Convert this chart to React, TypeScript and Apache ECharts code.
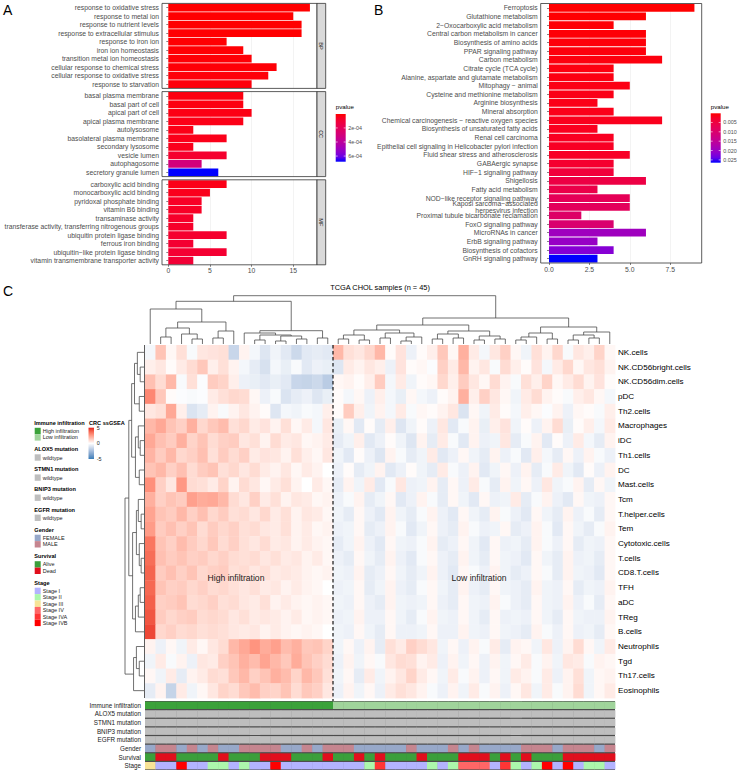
import React, { useEffect, useRef } from 'react';
import * as echarts from 'echarts';

const FONT = '"Liberation Sans", Arial, Helvetica, sans-serif';

// ---------------- Panel A (GO) ----------------
const bpTerms = ['response to oxidative stress', 'response to metal ion', 'response to nutrient levels', 'response to extracellular stimulus', 'response to iron ion', 'iron ion homeostasis', 'transition metal ion homeostasis', 'cellular response to chemical stress', 'cellular response to oxidative stress', 'response to starvation'];
const bpCounts = [17, 15, 16, 16, 7, 9, 10, 13, 12, 10];
const bpPvalues = [0.000002, 0.000003, 0.000003, 0.000004, 0.000005, 0.000006, 0.000008, 0.00001, 0.000012, 0.000015];
const ccTerms = ['basal plasma membrane', 'basal part of cell', 'apical part of cell', 'apical plasma membrane', 'autolysosome', 'basolateral plasma membrane', 'secondary lysosome', 'vesicle lumen', 'autophagosome', 'secretory granule lumen'];
const ccCounts = [9, 9, 10, 9, 3, 7, 3, 7, 4, 6];
const ccPvalues = [0.00002, 0.00002, 0.000025, 0.00003, 0.00003, 0.000035, 0.00004, 0.00008, 0.0003, 0.00068];
const mfTerms = ['carboxylic acid binding', 'monocarboxylic acid binding', 'pyridoxal phosphate binding', 'vitamin B6 binding', 'transaminase activity', 'transferase activity, transferring nitrogenous groups', 'ubiquitin protein ligase binding', 'ferrous iron binding', 'ubiquitin\u2212like protein ligase binding', 'vitamin transmembrane transporter activity'];
const mfCounts = [7, 5, 4, 4, 3, 3, 7, 3, 7, 3];
const mfPvalues = [0.00003, 0.00004, 0.00006, 0.00006, 0.00007, 0.00007, 0.00008, 0.00009, 0.00009, 0.0001];
const goOntologies = ['BP', 'CC', 'MF'];
const goAxisTicks = [0, 5, 10, 15];
const goLegendTicks = [0.0002, 0.0004, 0.0006];
const goLegendLabels = ['2e-04', '4e-04', '6e-04'];

// ---------------- Panel B (KEGG) ----------------
const keggTerms = ['Ferroptosis', 'Glutathione metabolism', '2\u2212Oxocarboxylic acid metabolism', 'Central carbon metabolism in cancer', 'Biosynthesis of amino acids', 'PPAR signaling pathway', 'Carbon metabolism', 'Citrate cycle (TCA cycle)', 'Alanine, aspartate and glutamate metabolism', 'Mitophagy \u2212 animal', 'Cysteine and methionine metabolism', 'Arginine biosynthesis', 'Mineral absorption', 'Chemical carcinogenesis \u2212 reactive oxygen species', 'Biosynthesis of unsaturated fatty acids', 'Renal cell carcinoma', 'Epithelial cell signaling in Helicobacter pylori infection', 'Fluid shear stress and atherosclerosis', 'GABAergic synapse', 'HIF\u22121 signaling pathway', 'Shigellosis', 'Fatty acid metabolism', 'NOD\u2212like receptor signaling pathway', 'Kaposi sarcoma\u2212associated\nherpesvirus infection', 'Proximal tubule bicarbonate reclamation', 'FoxO signaling pathway', 'MicroRNAs in cancer', 'ErbB signaling pathway', 'Biosynthesis of cofactors', 'GnRH signaling pathway'];
const keggCounts = [9, 6, 4, 6, 6, 6, 7, 4, 4, 5, 4, 3, 4, 7, 3, 4, 4, 5, 4, 4, 6, 3, 5, 5, 2, 4, 6, 3, 4, 3];
const keggPvalues = [0.0001, 0.0002, 0.0003, 0.0004, 0.0005, 0.0006, 0.0007, 0.0008, 0.0009, 0.001, 0.0012, 0.0013, 0.0014, 0.0016, 0.0018, 0.002, 0.0022, 0.0024, 0.0032, 0.0043, 0.0054, 0.006, 0.0075, 0.008, 0.0093, 0.0102, 0.0194, 0.0202, 0.0218, 0.0265];
const keggAxisTicks = [0, 2.5, 5, 7.5];
const keggLegendTicks = [0.005, 0.01, 0.015, 0.02, 0.025];
const keggLegendLabels = ['0.005', '0.010', '0.015', '0.020', '0.025'];

// ---------------- Panel C (heatmap) ----------------
const immuneCells = ['NK.cells', 'NK.CD56bright.cells', 'NK.CD56dim.cells', 'pDC', 'Th2.cells', 'Macrophages', 'iDC', 'Th1.cells', 'DC', 'Mast.cells', 'Tcm', 'T.helper.cells', 'Tem', 'Cytotoxic.cells', 'T.cells', 'CD8.T.cells', 'TFH', 'aDC', 'TReg', 'B.cells', 'Neutrophils', 'Tgd', 'Th17.cells', 'Eosinophils'];
const nkCells = [-0.3, 1.5, 0.2, 0.8, -0.2, 0.6, 0.7, 0.8, -1.5, 0.3, -0.3, -0.9, -0.4, -0.8, -1.4, -0.8, -0.7, -0.8, 1.8, 0.8, 0.6, 1.0, 1.8, 0.1, 0.7, -0.5, 0.1, 0.4, 1.4, 0.2, 2.0, 0.5, -0.3, 0.6, 1.2, 0.2, -0.4, 0.8, 0.3, 1.0, -0.2, 0.6, 0.4, 1.1, 0.2];
const nkBright = [0.4, 0.6, 0.1, 0.5, 0.9, 1.4, 0.4, 0.8, 0.3, -0.3, -0.7, -1.1, -0.3, -0.6, -0.2, -0.8, -0.5, -0.6, -0.9, 0.5, 0.3, 0.6, 0.4, -0.5, 0.7, 0.1, 0.2, -0.1, 1.2, 0.5, 1.8, 0.3, 0.6, -0.2, 0.9, 0.4, 0.1, 0.7, -0.3, 0.5, 1.0, 0.2, 0.6, 0.8, 0.3];
const nkDim = [1.6, 0.9, 1.8, -0.2, 0.8, -0.1, 1.3, 1.1, 0.4, -0.5, -0.6, -0.8, -0.6, -0.8, -1.5, -1.6, -1.4, -1.9, 0.2, 0.3, 0.1, 0.4, 1.3, -0.3, 0.5, -0.4, 0.1, 0.2, 1.0, 0.4, 1.3, 0.6, 0.2, 0.9, 0.3, -0.2, 0.8, 0.4, 1.1, 0.2, 0.5, 0.9, 0.3, 0.7, 0.1];
const pDC = [3.0, 1.4, 0.1, -0.1, -0.2, -0.1, 0.5, 0.8, 1.0, 0.9, 0.2, -0.5, -0.2, -1.0, -0.7, -0.5, -0.9, -0.6, 0.1, -0.3, 0.2, -0.5, 0.4, -0.3, -0.6, 0.2, -0.3, -0.5, 0.1, 0.3, 2.0, 0.4, 1.2, 0.6, 0.2, -0.4, 0.5, 0.9, 0.3, 0.1, -0.2, 0.4, 0.6, 0.2, -0.3];
const th2Cells = [0.6, 0.8, 2.2, 0.4, -1.0, -0.7, 0.3, -0.2, 0.3, 0.6, 0.3, 0.1, -0.9, -0.3, -0.4, -0.2, -0.3, 0.4, 0.1, 1.3, 0.4, -0.4, 0.3, -0.3, 0.5, -0.2, 0.2, 0.1, 0.3, 0.6, -1.0, 0.2, -0.4, 0.5, 0.1, -0.3, 0.4, 0.2, -0.1, 0.3, -0.5, 0.2, 0.1, -0.2, 0.4];
const macrophages = [1.8, 2.2, 1.5, 1.2, 2.0, 1.0, 1.4, 1.7, 0.8, 1.0, 0.5, 0.7, 0.3, 0.8, 0.2, 0.5, -0.3, 0.6, -0.6, 0.2, -0.8, 0.1, -0.7, 0.4, -0.9, -0.4, 0.1, -0.5, 0.6, -0.8, -0.2, 0.3, -0.6, 0.4, 0.7, -0.4, 0.1, -0.5, 0.3, 0.9, -0.6, 0.1, 0.4, -0.3, 0.5];
const iDC = [2.2, 1.6, 1.3, 2.0, 1.1, 1.5, 0.9, 1.2, 1.3, 0.6, 0.8, 0.3, 0.9, 0.5, 0.6, 0.2, 0.3, 0.5, -0.7, -0.4, 0.4, -0.8, -0.5, 0.1, -0.4, -0.9, 0.3, -0.7, 0.5, -0.2, -0.8, 0.3, -0.5, -0.4, 0.6, -0.7, -0.2, 0.3, -0.8, 0.1, -0.5, 0.5, -0.3, -0.7, 0.3];
const th1Cells = [1.9, 1.3, 1.8, 1.0, 1.2, 1.6, 0.8, 1.3, 0.9, 1.2, 0.5, 0.7, 0.6, 0.3, 0.8, 0.4, 0.2, 0.6, -0.4, -0.8, 0.1, -0.5, -0.9, 0.3, -0.2, -0.7, -0.4, 0.5, -0.8, -0.5, 0.2, -0.4, -0.7, 0.3, -0.5, -0.2, -0.8, 0.4, -0.3, -0.7, 0.2, -0.5, 0.3, -0.2, -0.5];
const dc = [1.5, 1.8, 1.2, 1.6, 0.9, 1.3, 1.5, 0.8, 1.0, 0.6, 0.9, 0.5, 0.3, 0.6, 0.2, 0.5, 0.3, 0.0, -0.5, 0.1, -0.7, -0.4, 0.3, -0.8, -0.5, 0.1, -0.4, -0.7, 0.5, -0.2, -0.5, 0.3, -0.8, -0.4, 0.2, -0.5, 0.3, -0.7, -0.2, 0.5, -0.4, -0.8, 0.1, -0.5, 0.3];
const mastCells = [2.8, 1.2, 0.6, 2.6, 0.9, 0.8, 0.5, 1.1, 0.3, 0.9, 0.6, 0.2, 0.5, 0.8, 0.3, 0.0, 0.5, 0.2, -0.7, 0.3, -0.4, 0.5, -0.8, -0.2, 0.6, -0.5, -0.4, 0.3, -0.7, 0.2, -0.5, 0.5, -0.2, -0.7, 0.3, -0.4, 0.2, -0.5, 0.6, -0.4, -0.2, 0.3, -0.7, 0.2, -0.4];
const tcm = [2.0, 1.2, 1.5, 1.3, 2.4, 2.1, 2.2, 1.8, 0.9, 0.6, 1.2, 0.5, 0.8, 0.3, 0.6, 0.5, 0.2, 0.3, -0.5, -0.2, 0.3, -0.7, -0.4, 0.2, -0.8, -0.5, 0.3, -0.2, -0.7, 0.2, -0.4, -0.8, 0.2, -0.5, -0.4, 0.5, -0.7, -0.2, 0.3, -0.5, -0.8, 0.2, -0.4, -0.5, 0.2];
const tHelper = [2.3, 1.5, 1.3, 1.8, 1.2, 1.6, 1.0, 1.3, 0.8, 0.9, 0.6, 1.0, 0.5, 0.8, 0.3, 0.6, 0.5, 0.2, -0.4, -0.7, 0.2, -0.5, -0.8, 0.3, -0.4, -0.7, -0.2, 0.3, -0.5, -0.8, 0.2, -0.4, -0.7, 0.3, -0.2, -0.5, -0.8, 0.2, -0.4, -0.7, 0.3, -0.5, -0.2, -0.7, 0.2];
const tem = [2.5, 1.3, 1.6, 1.2, 1.5, 0.9, 1.3, 1.0, 1.2, 0.8, 0.9, 0.6, 0.5, 0.8, 0.3, 0.5, 0.2, 0.3, -0.5, -0.4, 0.2, -0.7, -0.5, 0.3, -0.2, -0.8, -0.4, 0.2, -0.5, -0.7, 0.3, -0.2, -0.5, -0.4, 0.2, -0.7, -0.5, 0.3, -0.2, -0.8, 0.2, -0.4, -0.7, -0.2, 0.3];
const cytotoxic = [3.4, 1.5, 1.2, 1.7, 1.3, 1.0, 1.4, 0.9, 1.2, 0.8, 0.6, 0.9, 0.5, 0.6, 0.3, 0.5, 0.3, 0.2, -0.7, -0.4, 0.3, -0.5, -0.8, 0.2, -0.4, -0.5, -0.2, 0.3, -0.7, -0.5, 0.2, -0.4, -0.8, 0.2, -0.5, -0.4, -0.7, 0.3, -0.2, -0.5, 0.2, -0.7, -0.4, -0.5, 0.2];
const tCells = [3.6, 1.6, 1.3, 1.5, 1.2, 1.3, 1.0, 1.2, 0.9, 0.8, 0.9, 0.6, 0.8, 0.5, 0.6, 0.3, 0.5, 0.2, -0.5, -0.7, 0.2, -0.4, -0.7, 0.3, -0.5, -0.8, -0.2, 0.2, -0.5, -0.7, 0.3, -0.4, -0.7, 0.2, -0.4, -0.5, -0.8, 0.2, -0.4, -0.7, 0.3, -0.5, -0.4, -0.7, 0.2];
const cd8Tcells = [3.8, 1.3, 1.6, 1.2, 1.5, 1.0, 1.2, 1.3, 0.8, 0.9, 0.6, 0.8, 0.5, 0.6, 0.5, 0.3, 0.2, 0.3, -0.4, -0.5, 0.3, -0.7, -0.5, 0.2, -0.4, -0.7, -0.4, 0.3, -0.5, -0.8, 0.2, -0.2, -0.5, 0.3, -0.4, -0.7, -0.5, 0.2, -0.2, -0.7, 0.3, -0.4, -0.5, -0.8, 0.2];
const tfh = [3.7, 1.5, 1.2, 1.3, 1.0, 1.2, 0.9, 1.0, 0.8, 0.6, 0.8, 0.5, 0.6, 0.3, 0.5, 0.3, 0.2, 0.0, -0.5, -0.4, 0.2, -0.7, -0.4, 0.3, -0.5, -0.7, -0.2, 0.2, -0.4, -0.7, 0.3, -0.5, -0.7, 0.2, -0.4, -0.5, -0.7, 0.3, -0.4, -0.5, 0.2, -0.7, -0.4, -0.5, 0.3];
const aDC = [3.9, 1.2, 1.3, 1.5, 0.9, 1.0, 1.2, 0.8, 0.9, 0.6, 0.5, 0.8, 0.3, 0.5, 0.3, 0.2, 0.3, 0.2, -0.4, -0.5, 0.2, -0.5, -0.7, 0.3, -0.4, -0.5, -0.4, 0.2, -0.5, -0.7, 0.2, -0.4, -0.5, 0.3, -0.2, -0.5, -0.7, 0.2, -0.4, -0.5, 0.3, -0.5, -0.2, -0.7, 0.2];
const tReg = [4.1, 1.3, 1.0, 1.2, 1.3, 0.9, 1.0, 0.9, 0.6, 0.8, 0.5, 0.6, 0.5, 0.3, 0.5, 0.2, 0.3, 0.2, -0.5, -0.4, 0.3, -0.5, -0.5, 0.2, -0.4, -0.7, -0.2, 0.3, -0.4, -0.5, 0.2, -0.4, -0.7, 0.2, -0.5, -0.4, -0.5, 0.2, -0.4, -0.7, 0.2, -0.4, -0.5, -0.5, 0.3];
const bCells = [4.4, 1.0, 1.2, 0.9, 1.0, 0.8, 0.9, 0.8, 0.6, 0.5, 0.6, 0.3, 0.5, 0.3, 0.2, 0.3, 0.2, 0.0, -0.4, -0.5, 0.2, -0.4, -0.7, 0.2, -0.5, -0.5, -0.4, 0.2, -0.5, -0.5, 0.3, -0.4, -0.5, 0.2, -0.4, -0.5, -0.7, 0.3, -0.2, -0.5, 0.2, -0.5, -0.4, -0.7, 0.2];
const neutrophils = [0.3, -0.5, 0.2, -0.4, 0.5, 0.2, 0.6, 0.9, 1.8, 2.2, 2.7, 2.1, 2.4, 1.7, 2.0, 1.4, 1.5, 1.1, -0.4, 0.2, -0.5, 0.3, -0.7, 0.8, 0.5, 1.2, 0.9, 0.6, -0.4, 0.2, -0.5, 0.3, -0.2, 0.5, -0.7, 0.3, 0.2, -0.4, 0.6, -0.5, 0.3, 0.9, 0.2, -0.4, 0.5];
const tgd = [-0.4, 0.5, -0.2, 0.3, -0.5, 0.6, 0.5, 1.2, 1.5, 2.0, 1.7, 2.3, 1.8, 1.4, 2.1, 1.5, 1.2, 0.9, -0.5, 0.3, -0.4, 0.2, -0.2, 0.6, 0.9, 0.8, 0.3, 0.5, -0.5, 0.3, -0.4, 0.2, -0.5, 0.3, -0.4, 0.2, 0.5, -0.2, 0.3, -0.4, 0.6, 0.5, -0.2, 0.3, 0.2];
const th17Cells = [0.2, -0.4, 0.5, -0.7, 0.3, 0.5, 0.9, 0.8, 1.4, 1.8, 1.2, 1.5, 2.0, 1.7, 1.1, 1.8, 1.4, 0.8, -0.4, 0.2, -0.7, 0.5, -0.4, 0.3, 0.6, 1.1, 0.5, 0.2, -0.4, 0.5, -0.2, 0.3, -0.5, 0.2, -0.4, 0.5, 0.3, -0.2, 0.5, -0.5, 0.3, 0.8, -0.4, 0.2, 0.3];
const eosinophils = [-0.7, 0.3, -1.6, 0.5, -0.4, 0.2, 0.6, 1.1, 0.9, 1.4, 1.7, 1.2, 1.1, 1.5, 0.9, 1.4, 1.2, 0.6, -0.5, 0.3, -0.4, 0.2, -0.5, 0.5, 0.8, 0.6, 0.3, -0.2, -0.5, 0.3, -0.4, 0.5, -0.2, 0.3, -0.5, 0.2, 0.6, -0.4, 0.5, -0.2, 0.3, 0.9, -0.4, 0.2, 0.5];
const heatRows = [nkCells, nkBright, nkDim, pDC, th2Cells, macrophages, iDC, th1Cells, dc, mastCells, tcm, tHelper, tem, cytotoxic, tCells, cd8Tcells, tfh, aDC, tReg, bCells, neutrophils, tgd, th17Cells, eosinophils];
const highInfiltrationCount = 18;

// Column dendrogram: hclust-style merges [left, right, height]; negative = leaf (1-based), positive = earlier merge (1-based)
const colMerges: [number, number, number][] = [
  [-2, -3, 7], [-5, -6, 5], [-4, 2, 10], [1, 3, 16], [-7, -8, 6], [5, -9, 13], [4, 6, 22], [-1, 7, 35],
  [-11, -12, 4], [-13, -14, 3], [-15, -16, 5], [10, 11, 8], [9, 12, 9], [-10, 13, 11], [-17, -18, 6], [14, 15, 13.3], [8, 16, 42.7],
  [-19, -20, 5], [-21, -22, 4], [18, 19, 9], [-23, -24, 6], [-25, -26, 3], [22, -27, 7], [21, 23, 11], [20, 24, 14],
  [-28, -29, 5], [-30, -31, 6], [26, 27, 10], [-32, -33, 4], [-34, -35, 5], [29, 30, 8], [28, 31, 13], [25, 32, 19],
  [-36, -37, 4], [-38, 34, 7], [-39, -40, 5], [35, 36, 11], [-41, -42, 4], [-43, -44, 6], [38, 39, 9], [40, -45, 12], [37, 41, 17],
  [33, 42, 26], [17, 43, 48.3],
];
// Row dendrogram
const rowMerges: [number, number, number][] = [
  [-2, -3, 4], [-1, 1, 7], [-4, -5, 5], [2, 3, 10], [-7, -8, 4], [-6, 5, 6], [-9, -10, 5], [6, 7, 9], [4, 8, 13],
  [-12, -13, 3], [-11, 10, 6], [-15, -16, 3], [-14, 12, 5], [11, 13, 8], [-17, -18, 4], [15, -19, 6], [16, -20, 9], [14, 17, 12],
  [9, 18, 16], [-22, -23, 5], [-21, 20, 8], [21, -24, 11], [19, 22, 20],
];

// Column annotations (codes per sample, in heatmap order)
const annotationNames = ['Immune infiltration', 'ALOX5 mutation', 'STMN1 mutation', 'BNIP3 mutation', 'EGFR mutation', 'Gender', 'Survival', 'Stage'];
const immuneCodes = 'HHHHHHHHHHHHHHHHHHLLLLLLLLLLLLLLLLLLLLLLLLLLL';
const alox5Codes = 'WWWWWWWWWWWWWWWWWWWWWWWWWWWWWWWWWWWWWWWWWWWWW';
const stmn1Codes = 'WWWWWWWWWWWWWWWWWWWWWWWWWWWWWWWWWWWWWWWWWWWWW';
const bnip3Codes = 'WWWWWWWWWWWWWWWWWWWWWWWWWWWWWWWWWWWWWWWWWWWWW';
const egfrCodes = 'WWWWWWWWWWWWWWWWWWWWWWWWWWWWWWWWWWWWWWWWWWWWW';
const genderCodes = 'FMMFMFMFFMMMMFFMFMMMFFFFFMFFFMFMFFFFMMMFMMMFM';
const survivalCodes = 'ADDAAAADAAADDDAAADAADADAAADAAADDDADADAAADDDDD';
const stageCodes = '311B112212' + '11B1111111' + '12A1111212' + '4441A212B1' + 'B1221';

const legendGroups = [
  { title: 'Immune infiltration', codes: immuneCodes, items: [['H', 'High infiltration', '#3BA23A'], ['L', 'Low infiltration', '#A0D49B']] },
  { title: 'ALOX5 mutation', codes: alox5Codes, items: [['W', 'wildtype', '#BEBEBE']] },
  { title: 'STMN1 mutation', codes: stmn1Codes, items: [['W', 'wildtype', '#BEBEBE']] },
  { title: 'BNIP3 mutation', codes: bnip3Codes, items: [['W', 'wildtype', '#BEBEBE']] },
  { title: 'EGFR mutation', codes: egfrCodes, items: [['W', 'wildtype', '#BEBEBE']] },
  { title: 'Gender', codes: genderCodes, items: [['F', 'FEMALE', '#97A8C9'], ['M', 'MALE', '#C5858F']] },
  { title: 'Survival', codes: survivalCodes, items: [['A', 'Alive', '#3B9F3B'], ['D', 'Dead', '#E10E1C']] },
  { title: 'Stage', codes: stageCodes, items: [['1', 'Stage I', '#B3B3FF'], ['2', 'Stage II', '#ACF7AC'], ['3', 'Stage III', '#F7E396'], ['4', 'Stage IV', '#FF6666'], ['A', 'Stage IVA', '#FF3535'], ['B', 'Stage IVB', '#FF0000']] },
];
const heatLegendTicks = [5, 0, -5];

// ---------------- colour helpers (CIELAB interpolation) ----------------
function hex2rgb(h: string) { const n = parseInt(h.slice(1), 16); return [(n >> 16) & 255, (n >> 8) & 255, n & 255]; }
const toLin = (c: number) => { c /= 255; return c <= 0.04045 ? c / 12.92 : Math.pow((c + 0.055) / 1.055, 2.4); };
const fromLin = (c: number) => { const v = c <= 0.0031308 ? 12.92 * c : 1.055 * Math.pow(Math.max(c, 0), 1 / 2.4) - 0.055; return Math.round(Math.min(1, Math.max(0, v)) * 255); };
function rgb2lab(rgb: number[]) {
  const R = toLin(rgb[0]), G = toLin(rgb[1]), B = toLin(rgb[2]);
  const X = (0.4124564 * R + 0.3575761 * G + 0.1804375 * B) / 0.95047;
  const Y = 0.2126729 * R + 0.7151522 * G + 0.072175 * B;
  const Z = (0.0193339 * R + 0.119192 * G + 0.9503041 * B) / 1.08883;
  const f = (t: number) => (t > 0.008856 ? Math.cbrt(t) : 7.787 * t + 16 / 116);
  const fx = f(X), fy = f(Y), fz = f(Z);
  return [116 * fy - 16, 500 * (fx - fy), 200 * (fy - fz)];
}
function lab2hex(lab: number[]) {
  const fy = (lab[0] + 16) / 116, fx = fy + lab[1] / 500, fz = fy - lab[2] / 200;
  const fi = (t: number) => (t * t * t > 0.008856 ? t * t * t : (t - 16 / 116) / 7.787);
  const X = fi(fx) * 0.95047, Y = fi(fy), Z = fi(fz) * 1.08883;
  const R = 3.2404542 * X - 1.5371385 * Y - 0.4985314 * Z;
  const G = -0.969266 * X + 1.8760108 * Y + 0.041556 * Z;
  const B = 0.0556434 * X - 0.2040259 * Y + 1.0572252 * Z;
  return '#' + [R, G, B].map((c) => fromLin(c).toString(16).padStart(2, '0')).join('');
}
function labMix(c1: string, c2: string, t: number) {
  const a = rgb2lab(hex2rgb(c1)), b = rgb2lab(hex2rgb(c2));
  return lab2hex(a.map((v, i) => v + (b[i] - v) * Math.max(0, Math.min(1, t))));
}
const HEAT_HIGH = '#E41A1C';
const HEAT_LOW = '#377EB8';
const heatColor = (v: number) => (v >= 0 ? labMix('#FFFFFF', HEAT_HIGH, v / 5) : labMix('#FFFFFF', HEAT_LOW, -v / 5));

function pScale(pvals: number[]) {
  const lo = Math.min(...pvals), hi = Math.max(...pvals);
  return { lo, hi, color: (p: number) => labMix('#FF0000', '#0000FF', (p - lo) / (hi - lo)) };
}

function dendroSegments(merges: [number, number, number][]) {
  const pos: number[] = [], hts: number[] = [];
  return merges.map(([a, b, h], k) => {
    const pa = a < 0 ? -a - 0.5 : pos[a - 1];
    const ha = a < 0 ? 0 : hts[a - 1];
    const pb = b < 0 ? -b - 0.5 : pos[b - 1];
    const hb = b < 0 ? 0 : hts[b - 1];
    pos[k] = (pa + pb) / 2; hts[k] = h;
    return [pa, ha, pb, hb, h];
  });
}

function buildOption() {
  const goAll = [...bpPvalues, ...ccPvalues, ...mfPvalues];
  const goScale = pScale(goAll);
  const keggScale = pScale(keggPvalues);

  // layout
  const A = { zero: 168.3, left: 162, right: 317, tops: [3.4, 91.6, 179.8], h: 85, max: 17.85 };
  const B = { zero: 549, left: 540.7, right: 701.7, top: 3.5, h: 259.5, max: 9.45 };
  const HM = { left: 145, top: 345, w: 470, h: 353 };
  const AN = { top: 701, h: 69 };

  const grids: any[] = [];
  const xAxes: any[] = [];
  const yAxes: any[] = [];
  const series: any[] = [];
  const graphics: any[] = [];

  const axisText = { fontSize: 6.8, color: '#4D4D4D', fontFamily: FONT };

  const goSets = [[bpTerms, bpCounts, bpPvalues], [ccTerms, ccCounts, ccPvalues], [mfTerms, mfCounts, mfPvalues]] as const;
  goSets.forEach(([terms, counts, pv], i) => {
    grids.push({ left: A.zero, top: A.tops[i], width: A.right - A.zero, height: A.h });
    xAxes.push({
      gridIndex: i, type: 'value', min: 0, max: A.max, interval: 2.5,
      axisLine: { show: false },
      axisTick: { show: i === 2, customValues: goAxisTicks, length: 2, lineStyle: { color: '#333', width: 0.6 } },
      axisLabel: { show: i === 2, customValues: goAxisTicks, ...axisText, margin: 2.5 },
      splitLine: { show: true, lineStyle: { color: '#EBEBEB', width: 0.6 } },
    });
    yAxes.push({
      gridIndex: i, type: 'category', inverse: true, data: terms, offset: A.zero - A.left,
      axisLine: { show: false },
      axisTick: { show: true, length: 2, alignWithLabel: true, lineStyle: { color: '#333', width: 0.6 } },
      axisLabel: { ...axisText, margin: 3, interval: 0 },
      splitLine: { show: false },
    });
    series.push({
      type: 'bar', xAxisIndex: i, yAxisIndex: i, barCategoryGap: '10%',
      data: (counts as number[]).map((c, j) => ({ value: c, itemStyle: { color: goScale.color((pv as number[])[j]) } })),
    });
    graphics.push({ type: 'rect', shape: { x: A.left, y: A.tops[i], width: A.right - A.left, height: A.h }, style: { fill: 'none', stroke: '#333', lineWidth: 0.8 }, z: 100 });
    graphics.push({ type: 'rect', shape: { x: A.right, y: A.tops[i], width: 8.7, height: A.h }, style: { fill: '#D9D9D9', stroke: '#333', lineWidth: 0.8 }, z: 100 });
    graphics.push({ type: 'text', x: A.right + 4.35, y: A.tops[i] + A.h / 2, rotation: -Math.PI / 2, style: { text: goOntologies[i], fontSize: 5.5, fontFamily: FONT, fill: '#1A1A1A', align: 'center', verticalAlign: 'middle', textAlign: 'center', textVerticalAlign: 'middle' }, z: 101 });
  });

  // Panel B
  grids.push({ left: B.zero, top: B.top, width: B.right - B.zero, height: B.h });
  xAxes.push({
    gridIndex: 3, type: 'value', min: 0, max: B.max, interval: 1.25,
    axisLine: { show: false },
    axisTick: { show: true, customValues: keggAxisTicks, length: 2, lineStyle: { color: '#333', width: 0.6 } },
    axisLabel: { customValues: keggAxisTicks, ...axisText, margin: 2.5, formatter: (v: number) => v.toFixed(1) },
    splitLine: { show: true, lineStyle: { color: '#EBEBEB', width: 0.6 } },
  });
  yAxes.push({
    gridIndex: 3, type: 'category', inverse: true, data: keggTerms, offset: B.zero - B.left,
    axisLine: { show: false },
    axisTick: { show: true, length: 2, alignWithLabel: true, lineStyle: { color: '#333', width: 0.6 } },
    axisLabel: { ...axisText, margin: 3, interval: 0, lineHeight: 6.6 },
    splitLine: { show: false },
  });
  series.push({
    type: 'bar', xAxisIndex: 3, yAxisIndex: 3, barCategoryGap: '10%',
    data: keggCounts.map((c, j) => ({ value: c, itemStyle: { color: keggScale.color(keggPvalues[j]) } })),
  });
  graphics.push({ type: 'rect', shape: { x: B.left, y: B.top, width: B.right - B.left, height: B.h }, style: { fill: 'none', stroke: '#333', lineWidth: 0.8 }, z: 100 });

  // p-value legends
  const pLegend = (x: number, yTitle: number, yBar: number, hBar: number, sc: any, ticks: number[], labels: string[]) => {
    const stops = Array.from({ length: 11 }, (_, k) => ({ offset: k / 10, color: labMix('#FF0000', '#0000FF', k / 10) }));
    graphics.push({ type: 'text', x, y: yTitle, style: { text: 'pvalue', fontSize: 6.2, fontFamily: FONT, fill: '#000', align: 'left', verticalAlign: 'middle', textAlign: 'left', textVerticalAlign: 'middle' } });
    graphics.push({ type: 'rect', shape: { x, y: yBar, width: 10, height: hBar }, style: { fill: new echarts.graphic.LinearGradient(0, 0, 0, 1, stops) } });
    ticks.forEach((t, k) => {
      const y = yBar + ((t - sc.lo) / (sc.hi - sc.lo)) * hBar;
      graphics.push({ type: 'line', shape: { x1: x, y1: y, x2: x + 2, y2: y }, style: { stroke: '#fff', lineWidth: 0.6 } });
      graphics.push({ type: 'line', shape: { x1: x + 8, y1: y, x2: x + 10, y2: y }, style: { stroke: '#fff', lineWidth: 0.6 } });
      graphics.push({ type: 'text', x: x + 12.5, y, style: { text: labels[k], fontSize: 5.4, fontFamily: FONT, fill: '#4D4D4D', align: 'left', verticalAlign: 'middle', textAlign: 'left', textVerticalAlign: 'middle' } });
    });
  };
  pLegend(335.7, 106.7, 114, 47.7, goScale, goLegendTicks, goLegendLabels);
  pLegend(710.7, 106.7, 113.3, 49.4, keggScale, keggLegendTicks, keggLegendLabels);

  // Panel labels
  [['A', 3, 10], ['B', 374, 10], ['C', 3, 291]].forEach(([t, x, y]) => {
    graphics.push({ type: 'text', x, y, style: { text: t, fontSize: 14, fontFamily: FONT, fill: '#000', align: 'left', verticalAlign: 'middle', textAlign: 'left', textVerticalAlign: 'middle' } });
  });

  // Panel C: heatmap grid (4)
  const sampleIdx = heatRows[0].map((_, c) => String(c + 1));
  grids.push({ left: HM.left, top: HM.top, width: HM.w, height: HM.h });
  xAxes.push({ gridIndex: 4, type: 'category', data: sampleIdx, show: false });
  yAxes.push({
    gridIndex: 4, type: 'category', data: immuneCells, inverse: true, position: 'right',
    axisLine: { show: false }, axisTick: { show: false },
    axisLabel: { fontSize: 8.1, color: '#000', fontFamily: FONT, margin: 3, interval: 0 },
    splitLine: { show: false },
  });
  const heatData: number[][] = [];
  heatRows.forEach((row, r) => row.forEach((v, c) => heatData.push([c, r, v])));
  series.push({
    type: 'custom', xAxisIndex: 4, yAxisIndex: 4, encode: { x: 0, y: 1 }, data: heatData,
    renderItem: (_p: any, api: any) => {
      const pt = api.coord([api.value(0), api.value(1)]);
      const s = api.size([1, 1]);
      return { type: 'rect', shape: { x: pt[0] - s[0] / 2, y: pt[1] - s[1] / 2, width: s[0] + 0.4, height: s[1] + 0.4 }, style: { fill: heatColor(api.value(2)) } };
    },
  });
  // dashed split between high/low infiltration
  series.push({
    type: 'custom', xAxisIndex: 4, yAxisIndex: 4, encode: { x: 0, y: 1 }, data: [[highInfiltrationCount - 1, 0]], z: 5,
    renderItem: (p: any, api: any) => {
      const pt = api.coord([api.value(0), 0]);
      const s = api.size([1, 1]);
      const x = pt[0] + s[0] / 2;
      return { type: 'line', shape: { x1: x, y1: p.coordSys.y, x2: x, y2: p.coordSys.y + p.coordSys.height + 3 }, style: { stroke: '#000', lineWidth: 1.1, lineDash: [3.5, 2.5] } };
    },
  });
  graphics.push({ type: 'line', shape: { x1: HM.left - 0.5, y1: HM.top, x2: HM.left - 0.5, y2: HM.top + HM.h }, style: { stroke: '#333', lineWidth: 0.8 }, z: 60 });

  // annotation grid (5)
  grids.push({ left: HM.left, top: AN.top, width: HM.w, height: AN.h });
  xAxes.push({ gridIndex: 5, type: 'category', data: sampleIdx, show: false });
  yAxes.push({
    gridIndex: 5, type: 'category', data: annotationNames, inverse: true,
    axisLine: { show: false }, axisTick: { show: false },
    axisLabel: { fontSize: 6.3, color: '#1A1A1A', fontFamily: FONT, margin: 4, interval: 0 },
    splitLine: { show: false },
  });
  const annotCells: { c: number; r: number; color: string }[] = [];
  legendGroups.forEach((g, r) => {
    const cmap: Record<string, string> = {};
    g.items.forEach(([code, , col]) => { cmap[code] = col; });
    g.codes.split('').forEach((code, c) => annotCells.push({ c, r, color: cmap[code] }));
  });
  series.push({
    type: 'custom', xAxisIndex: 5, yAxisIndex: 5, encode: { x: 0, y: 1 },
    data: annotCells.map((d) => [d.c, d.r]),
    renderItem: (p: any, api: any) => {
      const pt = api.coord([api.value(0), api.value(1)]);
      const s = api.size([1, 1]);
      return { type: 'rect', shape: { x: pt[0] - s[0] / 2, y: pt[1] - s[1] / 2 + 0.6, width: s[0] + 0.4, height: s[1] - 1.2 }, style: { fill: annotCells[p.dataIndex].color } };
    },
  });
  graphics.push({ type: 'rect', shape: { x: HM.left, y: AN.top, width: HM.w, height: AN.h }, style: { fill: '#4D4D4D' }, z: -1 });

  // column dendrogram (6)
  const colSegs = dendroSegments(colMerges);
  const colRoot = colMerges[colMerges.length - 1][2];
  grids.push({ left: HM.left, top: HM.top - 1 - 48.3, width: HM.w, height: 48.3 });
  xAxes.push({ gridIndex: 6, type: 'value', min: 0, max: heatRows[0].length, show: false });
  yAxes.push({ gridIndex: 6, type: 'value', min: 0, max: colRoot, show: false });
  series.push({
    type: 'custom', xAxisIndex: 6, yAxisIndex: 6, encode: { x: 0, y: 1 }, data: colSegs,
    renderItem: (_p: any, api: any) => {
      const a = api.coord([api.value(0), api.value(1)]);
      const a2 = api.coord([api.value(0), api.value(4)]);
      const b2 = api.coord([api.value(2), api.value(4)]);
      const b = api.coord([api.value(2), api.value(3)]);
      return { type: 'polyline', shape: { points: [a, a2, b2, b] }, style: { stroke: '#4D4D4D', fill: 'none', lineWidth: 0.8 } };
    },
  });

  // row dendrogram (7)
  const rowSegs = dendroSegments(rowMerges);
  const rowRoot = rowMerges[rowMerges.length - 1][2];
  grids.push({ left: 125, top: HM.top, width: HM.left - 1 - 125, height: HM.h });
  xAxes.push({ gridIndex: 7, type: 'value', min: 0, max: rowRoot, inverse: true, show: false });
  yAxes.push({ gridIndex: 7, type: 'value', min: 0, max: immuneCells.length, inverse: true, show: false });
  series.push({
    type: 'custom', xAxisIndex: 7, yAxisIndex: 7, encode: { x: 1, y: 0 }, data: rowSegs,
    renderItem: (_p: any, api: any) => {
      const a = api.coord([api.value(1), api.value(0)]);
      const a2 = api.coord([api.value(4), api.value(0)]);
      const b2 = api.coord([api.value(4), api.value(2)]);
      const b = api.coord([api.value(3), api.value(2)]);
      return { type: 'polyline', shape: { points: [a, a2, b2, b] }, style: { stroke: '#4D4D4D', fill: 'none', lineWidth: 0.8 } };
    },
  });

  // heatmap texts
  const txt = (text: string, x: number, y: number, size: number, align = 'center', weight = 'normal', fill = '#000') => ({
    type: 'text', x, y, z: 50,
    style: { text, fontSize: size, fontFamily: FONT, fontWeight: weight, fill, align, verticalAlign: 'middle', textAlign: align, textVerticalAlign: 'middle' },
  });
  graphics.push(txt('TCGA CHOL samples (n = 45)', 380, 287.3, 7.4));
  graphics.push(txt('High infiltration', 236, 578, 8.6, 'center', 'normal', '#222'));
  graphics.push(txt('Low infiltration', 479, 578, 8.6, 'center', 'normal', '#222'));

  // Panel C legend
  let y = 422.7;
  legendGroups.forEach((g) => {
    graphics.push(txt(g.title, 34.3, y, 5.6, 'left', 'bold'));
    y += 8.3;
    g.items.forEach(([, label, col], k) => {
      if (k > 0) y += 6.4;
      graphics.push({ type: 'rect', shape: { x: 34.7, y: y - 3.2, width: 6, height: 6.4 }, style: { fill: col } });
      graphics.push(txt(label, 42.7, y, 5.5, 'left', 'normal', '#222'));
    });
    y += 11.8;
  });
  graphics.push(txt('CRC ssGSEA', 89, 422.7, 5.6, 'left', 'bold'));
  const heatStops = Array.from({ length: 21 }, (_, k) => ({ offset: k / 20, color: heatColor(5 - k / 2) }));
  graphics.push({ type: 'rect', shape: { x: 88.5, y: 427.7, width: 5.5, height: 31.3 }, style: { fill: new echarts.graphic.LinearGradient(0, 0, 0, 1, heatStops) } });
  heatLegendTicks.forEach((t) => {
    graphics.push(txt(String(t), 96.7, 427.7 + ((5 - t) / 10) * 31.3, 5.4, 'left', 'normal', '#222'));
  });

  return {
    animation: false,
    backgroundColor: '#fff',
    textStyle: { fontFamily: FONT },
    grid: grids,
    xAxis: xAxes,
    yAxis: yAxes,
    series,
    graphic: { elements: graphics },
  };
}

export default function App() {
  const ref = useRef<HTMLDivElement>(null);
  useEffect(() => {
    document.body.style.margin = '0';
    const chart = echarts.init(ref.current as HTMLDivElement, null, { renderer: 'svg' });
    chart.setOption(buildOption() as any);
    return () => chart.dispose();
  }, []);
  return <div ref={ref} style={{ width: 741, height: 773 }} />;
}
